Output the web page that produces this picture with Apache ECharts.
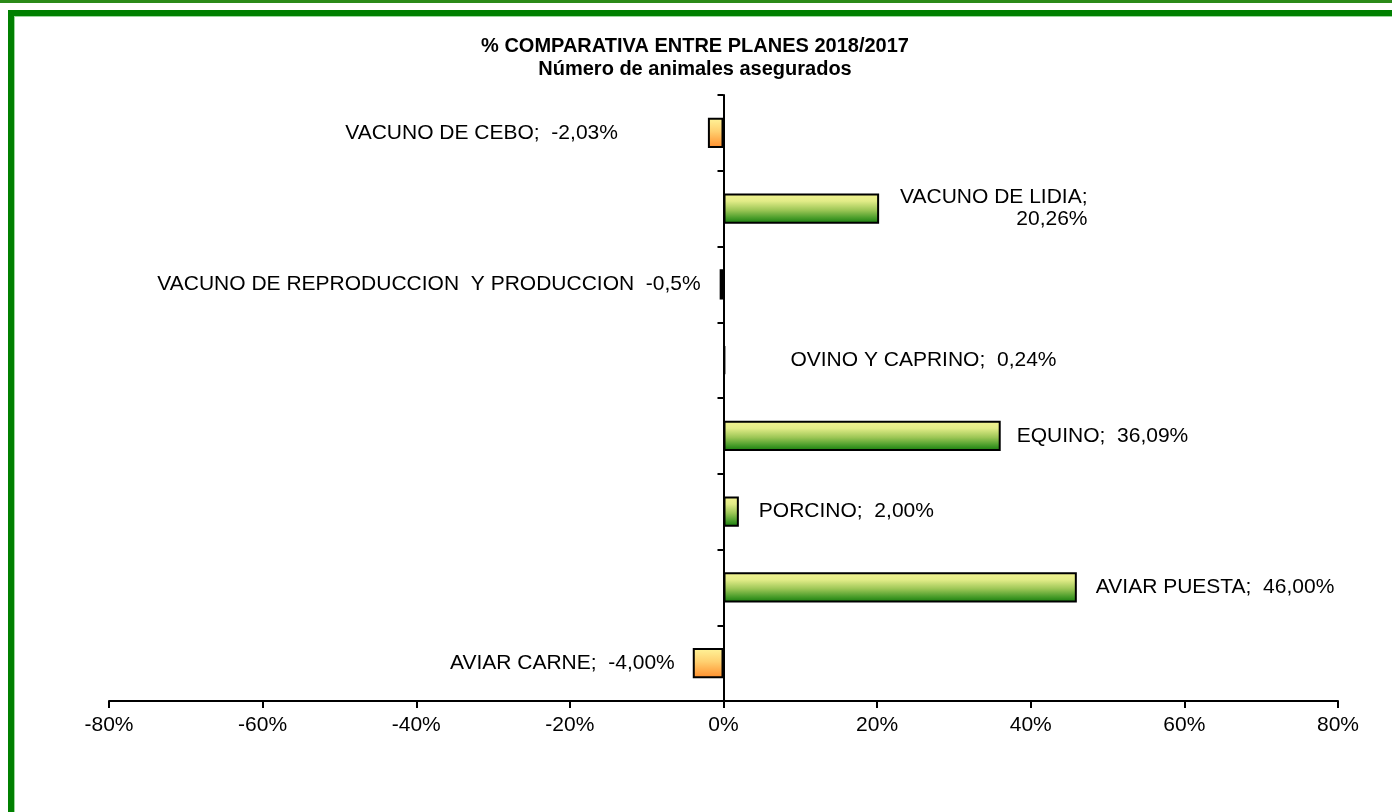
<!DOCTYPE html>
<html>
<head>
<meta charset="utf-8">
<script src="https://cdn.jsdelivr.net/npm/echarts@6/dist/echarts.min.js"></script>
<style>
  html,body{margin:0;padding:0;background:#fff;}
  #topline{position:absolute;left:0;top:0;width:1392px;height:3px;background:#2b8a18;}
  #frame{position:absolute;left:8px;top:10px;width:1384px;height:802px;
         border-left:6px solid #008000;border-top:6px solid #008000;box-sizing:border-box;}
  #frame:after{content:'';position:absolute;left:0;top:0;right:0;bottom:0;
         border-left:1px solid #9ad89a;border-top:1px solid #9ad89a;}
  #main{position:absolute;left:0;top:0;width:1392px;height:812px;}
</style>
</head>
<body>
<div id="topline"></div>
<div id="frame"></div>
<div id="main"></div>
<script>
// categorias de abajo hacia arriba
var categorias = ['AVIAR CARNE', 'AVIAR PUESTA', 'PORCINO', 'EQUINO', 'OVINO Y CAPRINO',
    'VACUNO DE REPRODUCCION  Y PRODUCCION', 'VACUNO DE LIDIA', 'VACUNO DE CEBO'];
var valores = [-4.00, 46.00, 2.00, 36.09, 0.24, -0.5, 20.26, -2.03];
var etiquetas = ['AVIAR CARNE;  -4,00%', 'AVIAR PUESTA;  46,00%', 'PORCINO;  2,00%', 'EQUINO;  36,09%',
    'OVINO Y CAPRINO;  0,24%', 'VACUNO DE REPRODUCCION  Y PRODUCCION  -0,5%',
    'VACUNO DE LIDIA;\n20,26%', 'VACUNO DE CEBO;  -2,03%'];
var ejeX = [-80, -60, -40, -20, 0, 20, 40, 60, 80];

var fuente = "'Liberation Sans', Arial, sans-serif";

//distancia de cada etiqueta a su barra
var distancias = [18, 19, 20, 16, 65, 19, 0, 90];

var gradVerde = new echarts.graphic.LinearGradient(0, 0, 0, 1, [
    {offset: 0, color: '#f4f492'},
    {offset: 0.25, color: '#e2ec88'},
    {offset: 0.55, color: '#9cc656'},
    {offset: 0.8, color: '#4c9e2c'},
    {offset: 1, color: '#127a0a'}
]);
var gradNaranja = new echarts.graphic.LinearGradient(0, 0, 0, 1, [
    {offset: 0, color: '#fff59a'},
    {offset: 0.45, color: '#ffd070'},
    {offset: 1, color: '#ff8c2a'}
]);

var datos = [];
for (var i = 0; i < valores.length; i++) {
    var v = valores[i];
    var lbl = {
        show: true,
        formatter: etiquetas[i],
        position: v < 0 ? 'left' : 'right',
        distance: distancias[i]
    };
    if (categorias[i] === 'VACUNO DE LIDIA') {
        // etiqueta en dos lineas alineada a la derecha
        lbl = {show: true, formatter: etiquetas[i], position: [364, 15],
            align: 'right', verticalAlign: 'middle', lineHeight: 22};
    }
    datos.push({
        value: v,
        itemStyle: {color: v < 0 ? gradNaranja : gradVerde},
        label: lbl
    });
}

var option = {
    animation: false,
    title: {
        text: '% COMPARATIVA ENTRE PLANES 2018/2017\nNúmero de animales asegurados',
        left: 690,
        top: 30,
        textAlign: 'center',
        textStyle: {
            fontFamily: fuente,
            fontWeight: 'bold',
            fontSize: 20,
            lineHeight: 23,
            color: '#000'
        }
    },
    grid: {left: 109, right: 54, top: 95, bottom: 111, containLabel: false},
    xAxis: {
        type: 'value',
        min: ejeX[0],
        max: ejeX[ejeX.length - 1],
        interval: 20,
        splitLine: {show: false},
        axisLine: {show: true, lineStyle: {color: '#000', width: 2}},
        axisTick: {show: true, length: 7, lineStyle: {color: '#000', width: 2}},
        axisLabel: {
            formatter: '{value}%',
            color: '#000',
            fontFamily: fuente,
            fontSize: 21,
            margin: 14
        }
    },
    yAxis: {
        type: 'category',
        data: categorias,
        axisLine: {show: true, onZero: true, lineStyle: {color: '#000', width: 2}},
        axisTick: {show: true, length: 6, lineStyle: {color: '#000', width: 2}},
        axisLabel: {show: false},
        splitLine: {show: false}
    },
    series: [{
        type: 'bar',
        data: datos,
        barCategoryGap: '60%',
        itemStyle: {borderColor: '#000', borderWidth: 2},
        label: {
            color: '#000',
            fontFamily: fuente,
            fontSize: 21
        }
    }]
};

var myChart = echarts.init(document.getElementById('main'));
myChart.setOption(option);
</script>
</body>
</html>
